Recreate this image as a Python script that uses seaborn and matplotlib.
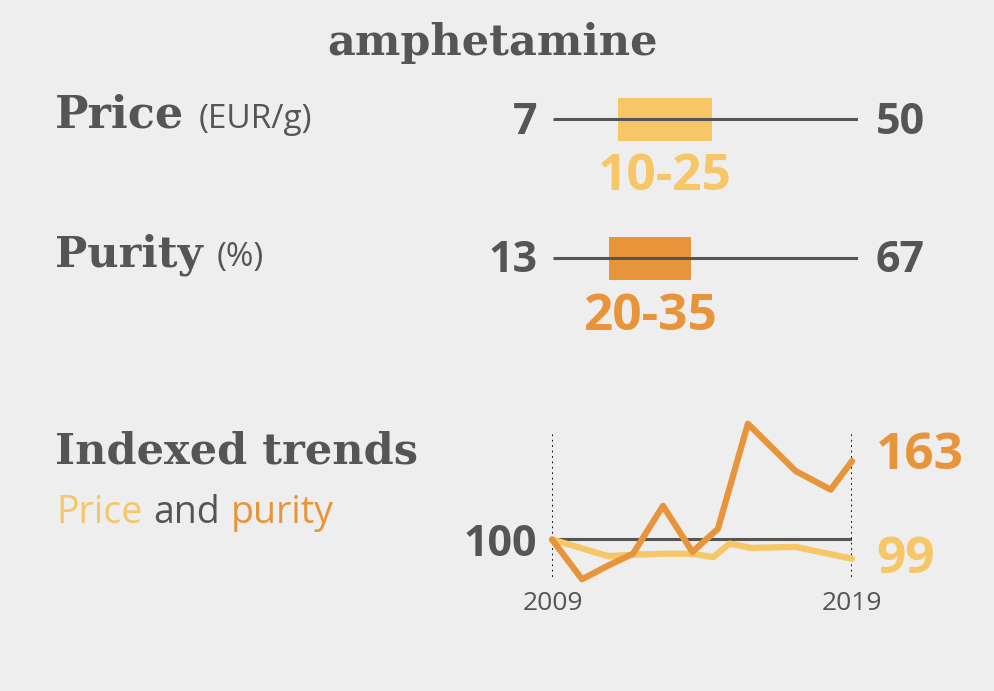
import numpy as np
import pandas as pd
import matplotlib
matplotlib.use("Agg")
import matplotlib.pyplot as plt
import seaborn as sns

# %% Data
title = "amphetamine"

price_min, price_max = 7, 50
price_range_label = "10-25"
# box edges as drawn, as a fraction of the min-max scale line
price_box = [0.213, 0.52]

purity_min, purity_max = 13, 67
purity_range_label = "20-35"
purity_box = [0.184, 0.452]

# indexed trends (2009 = 100)
purity_years = [2009.0, 2010.0, 2010.87, 2011.7, 2012.7, 2013.68, 2014.53, 2015.53, 2017.12, 2018.29, 2019.0]
purity_index = [100, 68, 79, 88.5, 127, 90, 108.5, 193, 155, 140, 163]

price_years = [2009.0, 2010.87, 2011.7, 2012.7, 2013.68, 2014.38, 2014.92, 2015.62, 2017.12, 2019.0]
price_index = [100, 86.6, 87.7, 88.5, 88.5, 85.8, 96.7, 93.2, 94, 84.5]

end_price_label = "99"
end_purity_label = "163"
first_year, last_year = 2009, 2019

# %% Style
BG = "#eeeeee"
GREY = "#555555"
YELLOW = "#f6c667"
ORANGE = "#e8943a"

sns.set_theme(style="white")
plt.rcParams["font.family"] = ["Open Sans", "DejaVu Sans"]

W, H = 995, 691
fig = plt.figure(figsize=(W / 100, H / 100), dpi=100, facecolor=BG)


def fx(px):
    return px / W


def fy(py):
    return 1 - py / H


SLAB = ["DejaVu Serif"]

fig.text(fx(493), fy(43), title, family=SLAB, weight="bold", fontsize=31,
         color=GREY, ha="center", va="center")


# %% Range bars
def range_row(y_line, vmin, vmax, box, label, color, label_y, head, unit, head_y, head_size):
    ax = fig.add_axes([fx(553), fy(y_line + 25), fx(858) - fx(553), 50 / H])
    ax.set_facecolor("none")
    ax.hlines(0, 0, 1, color=GREY, lw=2.2)
    ax.barh([0], [box[1] - box[0]], left=[box[0]], height=0.86, color=color, linewidth=0)
    ax.set_xlim(0, 1)
    ax.set_ylim(-0.5, 0.5)
    ax.axis("off")
    fig.text(fx(537), fy(y_line + 3), str(vmin), weight="bold", fontsize=31,
             color=GREY, ha="right", va="center")
    fig.text(fx(876), fy(y_line + 3), str(vmax), weight="bold", fontsize=31,
             color=GREY, ha="left", va="center")
    cx = 553 + (box[0] + box[1]) / 2 * 305
    fig.text(fx(cx), fy(label_y), label, weight="bold", fontsize=37,
             color=color, ha="center", va="center")
    t = fig.text(fx(55), fy(head_y), head, family=SLAB, weight="bold",
                 fontsize=head_size, color=GREY, ha="left", va="baseline")
    fig.canvas.draw()
    bb = t.get_window_extent()
    fig.text(bb.x1 / W + fx(14), fy(head_y), unit, fontsize=24, color=GREY,
             ha="left", va="baseline")


range_row(119, price_min, price_max, price_box, price_range_label, YELLOW,
          177, "Price", "(EUR/g)", 128, 32)
range_row(258, purity_min, purity_max, purity_box, purity_range_label, ORANGE,
          317, "Purity", "(%)", 266, 31)

# %% Indexed trends
fig.text(fx(55), fy(463), "Indexed trends", family=SLAB, weight="bold",
         fontsize=31, color=GREY, ha="left", va="baseline")
sub = fig.text(fx(56), fy(523), "Price", fontsize=27, color=YELLOW,
               ha="left", va="baseline")
fig.canvas.draw()
bb = sub.get_window_extent()
sub2 = fig.text(bb.x1 / W + fx(11), fy(523), "and", fontsize=27, color=GREY,
                ha="left", va="baseline")
fig.canvas.draw()
bb = sub2.get_window_extent()
fig.text(bb.x1 / W + fx(11), fy(523), "purity", fontsize=27, color=ORANGE,
         ha="left", va="baseline")

trend = pd.concat([
    pd.DataFrame({"year": price_years, "index": price_index, "series": "price"}),
    pd.DataFrame({"year": purity_years, "index": purity_index, "series": "purity"}),
])

ax = fig.add_axes([fx(552), fy(580), fx(852) - fx(552), 160 / H])
ax.set_facecolor("none")
ax.hlines(100, first_year, last_year, color=GREY, lw=2.2, zorder=1)
for yr in (first_year, last_year):
    ax.vlines(yr, 69.8, 186.3, color="black", lw=1.3, linestyles=(0, (1, 2)), zorder=1)
sns.lineplot(data=trend, x="year", y="index", hue="series",
             palette={"price": YELLOW, "purity": ORANGE}, lw=4.5,
             legend=False, ax=ax, zorder=3, clip_on=False)
ax.set_xlim(first_year, last_year)
ax.set_ylim(67.4, 196)
ax.axis("off")

fig.text(fx(537), fy(544), "100", weight="bold", fontsize=31, color=GREY,
         ha="right", va="center")
fig.text(fx(876), fy(456), end_purity_label, weight="bold", fontsize=37,
         color=ORANGE, ha="left", va="center")
fig.text(fx(876), fy(560), end_price_label, weight="bold", fontsize=37,
         color=YELLOW, ha="left", va="center")
fig.text(fx(553), fy(603), str(first_year), fontsize=19, color=GREY,
         ha="center", va="center")
fig.text(fx(852), fy(603), str(last_year), fontsize=19, color=GREY,
         ha="center", va="center")

fig.savefig("out.png", dpi=100, facecolor=BG)
